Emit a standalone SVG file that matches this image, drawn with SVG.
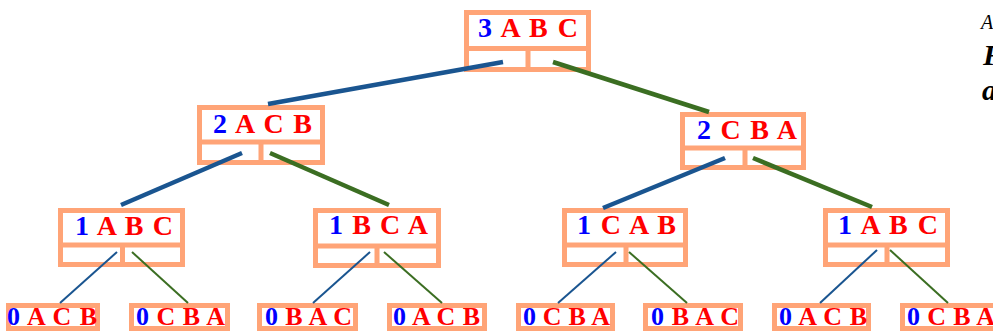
<svg xmlns="http://www.w3.org/2000/svg" width="993" height="332" viewBox="0 0 993 332">
<style>
  .box{fill:#ffffff;stroke:#FFA477;stroke-width:5}
  .div{fill:none;stroke:#FFA477;stroke-width:5}
  .t{font-family:"Liberation Serif","Times New Roman",serif;font-weight:bold;font-size:28px;fill:#FF0000}
  .lt{font-family:"Liberation Serif","Times New Roman",serif;font-weight:bold;font-size:26px;fill:#FF0000}
  .n{fill:#0000FF}
  .b1{stroke:#1A5590;stroke-width:4.5;fill:none}
  .g1{stroke:#3B6E22;stroke-width:4.5;fill:none}
  .b2{stroke:#1A5590;stroke-width:2;fill:none}
  .g2{stroke:#3B6E22;stroke-width:2;fill:none}
  .side{font-family:"Liberation Serif","Times New Roman",serif;font-style:italic;fill:#000000}
</style>
<rect width="993" height="332" fill="#ffffff"/>
<g id="n3ABC">
  <rect class="box" x="466.5" y="12.5" width="122" height="57"/>
  <path class="div" d="M466.5 48.5H588.5M528 48.5V69.5"/>
  <text class="t" x="478" y="37" textLength="100" lengthAdjust="spacing"><tspan class="n">3</tspan> A B C</text>
</g>
<g id="n2ACB">
  <rect class="box" x="199.5" y="107.5" width="123" height="55"/>
  <path class="div" d="M199.5 142H322.5M261 142V162.5"/>
  <text class="t" x="213" y="133" textLength="99" lengthAdjust="spacing"><tspan class="n">2</tspan> A C B</text>
</g>
<g id="n2CBA">
  <rect class="box" x="682.5" y="114.5" width="121" height="53"/>
  <path class="div" d="M682.5 148H803.5M745 148V167.5"/>
  <text class="t" x="697" y="139" textLength="100" lengthAdjust="spacing"><tspan class="n">2</tspan> C B A</text>
</g>
<g id="n1ABC_a">
  <rect class="box" x="60.5" y="210.5" width="122" height="54"/>
  <path class="div" d="M60.5 245H182.5M122.5 245V264.5"/>
  <text class="t" x="75" y="235" textLength="98" lengthAdjust="spacing"><tspan class="n">1</tspan> A B C</text>
</g>
<g id="n1BCA">
  <rect class="box" x="315.5" y="210.5" width="123" height="55"/>
  <path class="div" d="M315.5 246H438.5M377 246V265.5"/>
  <text class="t" x="329" y="234" textLength="99" lengthAdjust="spacing"><tspan class="n">1</tspan> B C A</text>
</g>
<g id="n1CAB">
  <rect class="box" x="564.5" y="210.5" width="121" height="54"/>
  <path class="div" d="M564.5 245H685.5M626 245V264.5"/>
  <text class="t" x="577" y="234" textLength="99" lengthAdjust="spacing"><tspan class="n">1</tspan> C A B</text>
</g>
<g id="n1ABC_b">
  <rect class="box" x="825.5" y="210.5" width="122" height="54"/>
  <path class="div" d="M825.5 245H947.5M887 245V264.5"/>
  <text class="t" x="838" y="234" textLength="100" lengthAdjust="spacing"><tspan class="n">1</tspan> A B C</text>
</g>
<g id="leaf1">
  <rect class="box" x="8.5" y="305.5" width="89" height="23"/>
  <text class="lt" x="7" y="325" textLength="90" lengthAdjust="spacing"><tspan class="n">0</tspan> A C B</text>
</g>
<g id="leaf2">
  <rect class="box" x="131.5" y="305.5" width="96" height="23"/>
  <text class="lt" x="136" y="325" textLength="89" lengthAdjust="spacing"><tspan class="n">0</tspan> C B A</text>
</g>
<g id="leaf3">
  <rect class="box" x="259.5" y="305.5" width="96" height="23"/>
  <text class="lt" x="265" y="325" textLength="87" lengthAdjust="spacing"><tspan class="n">0</tspan> B A C</text>
</g>
<g id="leaf4">
  <rect class="box" x="389.5" y="305.5" width="95" height="23"/>
  <text class="lt" x="393" y="325" textLength="87" lengthAdjust="spacing"><tspan class="n">0</tspan> A C B</text>
</g>
<g id="leaf5">
  <rect class="box" x="518.5" y="305.5" width="94" height="23"/>
  <text class="lt" x="523" y="325" textLength="87" lengthAdjust="spacing"><tspan class="n">0</tspan> C B A</text>
</g>
<g id="leaf6">
  <rect class="box" x="645.5" y="305.5" width="95" height="23"/>
  <text class="lt" x="651" y="325" textLength="88" lengthAdjust="spacing"><tspan class="n">0</tspan> B A C</text>
</g>
<g id="leaf7">
  <rect class="box" x="774.5" y="305.5" width="94" height="23"/>
  <text class="lt" x="779" y="325" textLength="88" lengthAdjust="spacing"><tspan class="n">0</tspan> A C B</text>
</g>
<g id="leaf8">
  <rect class="box" x="902.5" y="305.5" width="100" height="23"/>
  <text class="lt" x="907" y="325" textLength="88" lengthAdjust="spacing"><tspan class="n">0</tspan> C B A</text>
</g>
<g id="connectors">
  <line class="b1" x1="503" y1="62" x2="268" y2="104"/>
  <line class="g1" x1="553" y1="62" x2="709" y2="112"/>
  <line class="b1" x1="242" y1="153" x2="121" y2="205"/>
  <line class="g1" x1="270" y1="153" x2="389" y2="205"/>
  <line class="b1" x1="725" y1="158" x2="603" y2="208"/>
  <line class="g1" x1="753" y1="158" x2="872" y2="207"/>
  <line class="b2" x1="117" y1="252" x2="60" y2="303"/>
  <line class="g2" x1="132" y1="252" x2="188" y2="303"/>
  <line class="b2" x1="370" y1="252" x2="313" y2="303"/>
  <line class="g2" x1="384" y1="252" x2="442" y2="303"/>
  <line class="b2" x1="616" y1="252" x2="558" y2="303"/>
  <line class="g2" x1="629" y1="252" x2="687" y2="303"/>
  <line class="b2" x1="877" y1="250" x2="820" y2="303"/>
  <line class="g2" x1="890" y1="250" x2="948" y2="303"/>
</g>
<g id="sidetext">
  <text class="side" x="981" y="29" font-size="20">A</text>
  <text class="side" x="983" y="65" font-size="30" font-weight="bold">F</text>
  <text class="side" x="982" y="100" font-size="30" font-weight="bold">a</text>
</g>
</svg>
